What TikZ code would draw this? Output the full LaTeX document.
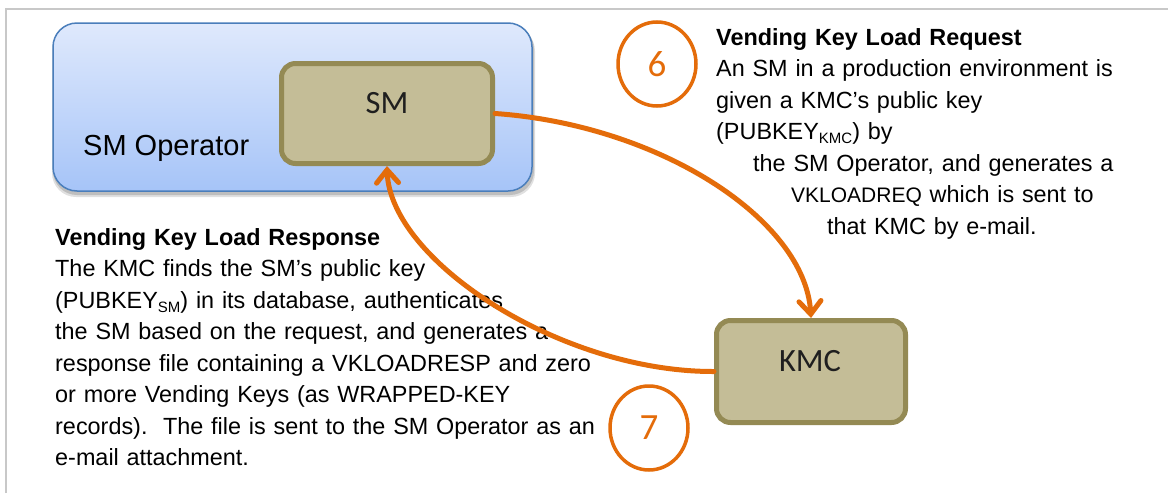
\documentclass[tikz,border=0pt]{standalone}
\usepackage{fontspec}
\setmainfont{Liberation Sans}
\newfontfamily\calfont{Carlito}
\usetikzlibrary{arrows.meta,shapes.geometric}
\definecolor{orng}{HTML}{E46C0A}
\definecolor{olivefill}{HTML}{C4BD97}
\definecolor{olivedraw}{HTML}{948A54}
\definecolor{bluedraw}{HTML}{4A7EBB}
\definecolor{bluetop}{HTML}{DFE9FC}
\definecolor{bluebot}{HTML}{A6C4F8}
\definecolor{framegray}{HTML}{C8C8C8}
\newcommand\subtxt[1]{\raisebox{-4pt}{\fontsize{15}{15}\selectfont #1}}
\begin{document}
\begin{tikzpicture}[x=1pt,y=-1pt,
  olivebox/.style={draw=olivedraw, fill=olivefill, line width=5pt, rounded corners=14pt, inner sep=0pt},
  boxlabel/.style={font=\calfont\fontsize{32.5}{38}\selectfont, text=black!88, inner sep=0pt},
  stepcircle/.style={draw=orng, line width=3.5pt, ellipse, minimum width=78pt, minimum height=84pt, inner sep=0pt, text=orng, font=\calfont\fontsize{37}{40}\selectfont},
  flow/.style={draw=orng, line width=5pt, line cap=round, -{Straight Barb[length=13pt,width=22pt,line cap=round]}},
  para/.style={font=\fontsize{23.4}{31.5}\selectfont, text width=620pt, align=left, inner sep=0pt, anchor=base west},
]
\useasboundingbox (0,0) rectangle (1168,493);
\fill[white] (0,0) rectangle (1168,493);
\draw[framegray, line width=2pt] (6,493) -- (6,9) -- (1168,9);

% shadow of operator box
\fill[black, opacity=0.12, rounded corners=24pt] (52,27) rectangle (535,197);
\fill[black, opacity=0.15, rounded corners=24pt] (53,25) rectangle (534,195);
\node[draw=bluedraw, line width=1.5pt, rounded corners=24pt, top color=bluetop, bottom color=bluebot, minimum width=479pt, minimum height=168pt, inner sep=0pt] (op) at (292.5,107) {};
\node[anchor=base west, inner sep=0pt, font=\fontsize{29}{34}\selectfont] (optxt) at (83,155) {SM Operator};

\node[olivebox, minimum width=211pt, minimum height=100pt] (sm) at (387,113.5) {};
\node[boxlabel] (smtxt) at (387,103) {SM};

\node[olivebox, minimum width=189pt, minimum height=102pt] (kmc) at (811,371.5) {};
\node[boxlabel] (kmctxt) at (810,361) {KMC};

\node[stepcircle] (c6) at (657,64) {6};
\node[stepcircle] (c7) at (649,428) {7};

\node[para] (req) at (716,45) {\textbf{Vending Key Load Request}\\
An SM in a production environment is\\
given a KMC’s public key\\
(PUBKEY\subtxt{KMC}) by\\
\hspace*{37pt}the SM Operator, and generates a\\
\hspace*{75pt}{\fontsize{21}{24}\selectfont VKLOADREQ} which is sent to\\
\hspace*{111pt}that KMC by e-mail.};

\node[para] (resp) at (55,245) {\textbf{Vending Key Load Response}\\
The KMC finds the SM’s public key\\
(PUBKEY\subtxt{SM}) in its database, authenticates\\
the SM based on the request, and generates a\\
response file containing a VKLOADRESP and zero\\
or more Vending Keys (as WRAPPED-KEY\\
records).\ \ The file is sent to the SM Operator as an\\
e-mail attachment.};

\draw[flow] (sm.east) .. controls (660,125) and (805,220) .. (kmc.north);
\draw[flow] (kmc.west) .. controls (560,372) and (390,260) .. (sm.south);
\end{tikzpicture}
\end{document}
